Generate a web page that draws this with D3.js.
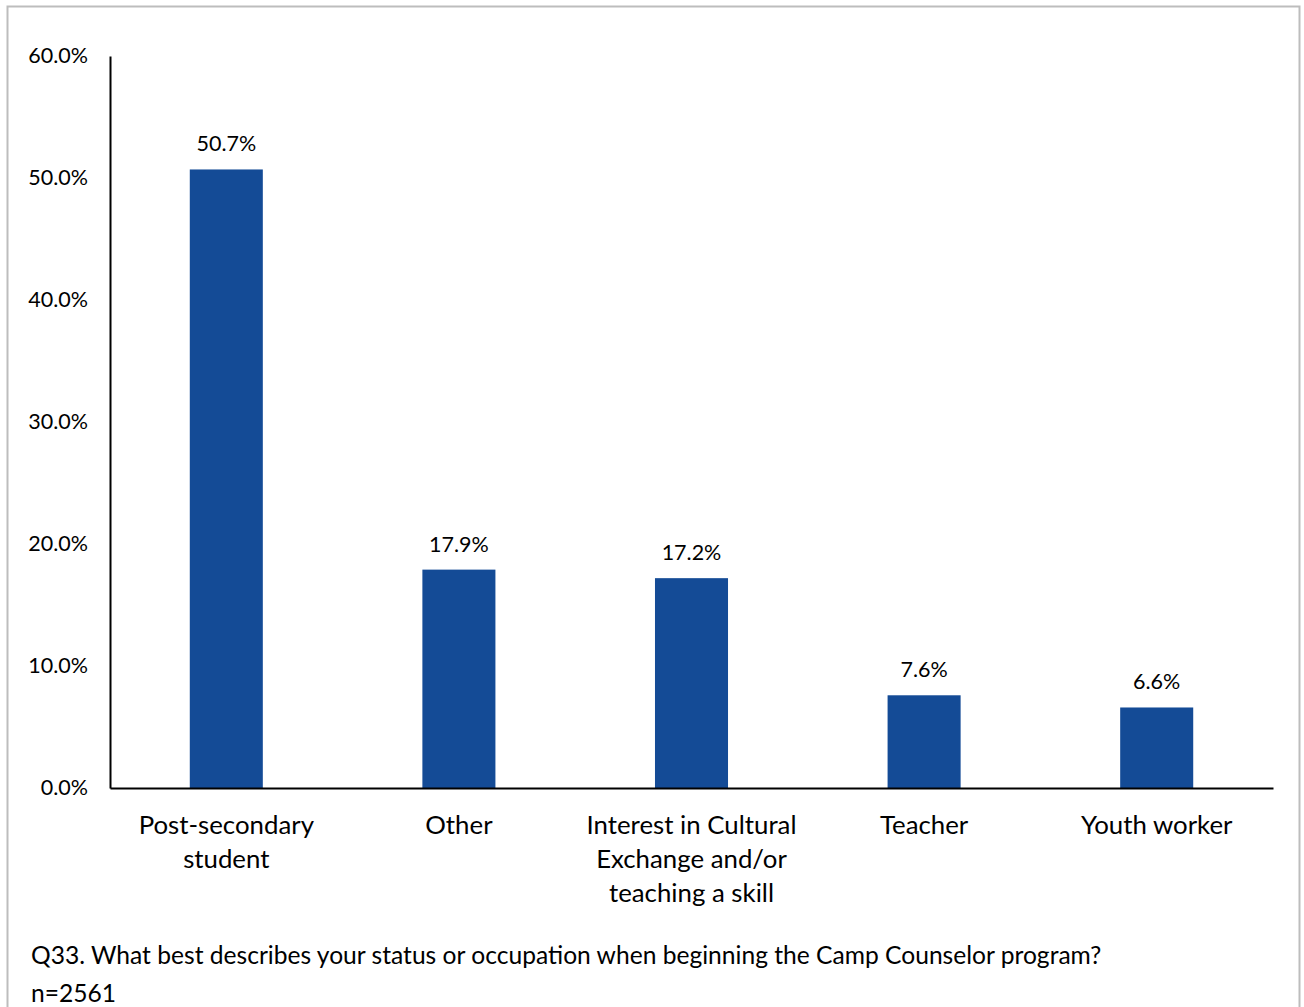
<!DOCTYPE html>
<html>
<head>
<meta charset="utf-8">
<script src="https://cdn.jsdelivr.net/npm/d3@7"></script>
<style>
  html, body { margin: 0; padding: 0; background: #fff; }
  svg { display: block; }
  text { font-family: Lato, "Open Sans", sans-serif; fill: #000; }
</style>
</head>
<body>
<svg id="chart" width="1304" height="1007"></svg>
<script>
// Survey responses: status or occupation when beginning the program
const categories = [
  ["Post-secondary", "student"],
  ["Other"],
  ["Interest in Cultural", "Exchange and/or", "teaching a skill"],
  ["Teacher"],
  ["Youth worker"]
];
const values = [50.7, 17.9, 17.2, 7.6, 6.6];
const yTicks = [0, 10, 20, 30, 40, 50, 60];
const footnote = [
  "Q33. What best describes your status or occupation when beginning the Camp Counselor program?",
  "n=2561"
];

const svg = d3.select("#chart");
const margin = { left: 110, right: 1273, top: 56, bottom: 788 };

// outer frame
svg.append("rect")
  .attr("x", 7.5).attr("y", 6.5)
  .attr("width", 1292).attr("height", 1010)
  .attr("fill", "none").attr("stroke", "#bdbdbd").attr("stroke-width", 2);

const x = d3.scaleBand()
  .domain(d3.range(values.length))
  .range([margin.left, margin.right])
  .paddingInner(0.686)
  .paddingOuter(0.343);

const y = d3.scaleLinear().domain([0, 60]).range([margin.bottom, margin.top]);

// bars
svg.append("g").selectAll("rect")
  .data(values)
  .join("rect")
  .attr("x", (d, i) => x(i))
  .attr("width", x.bandwidth())
  .attr("y", d => y(d))
  .attr("height", d => y(0) - y(d))
  .attr("fill", "#144b96");

// value labels
svg.append("g").selectAll("text")
  .data(values)
  .join("text")
  .attr("x", (d, i) => x(i) + x.bandwidth() / 2)
  .attr("y", d => y(d) - 18)
  .attr("text-anchor", "middle")
  .attr("font-size", 21.5)
  .text(d => d.toFixed(1) + "%");

// y axis
const yAxis = d3.axisLeft(y)
  .tickValues(yTicks)
  .tickSize(0)
  .tickPadding(22)
  .tickFormat(d => d.toFixed(1) + "%");
const gy = svg.append("g")
  .attr("transform", `translate(${margin.left},0)`)
  .call(yAxis);
gy.select(".domain").attr("stroke", "#000").attr("stroke-width", 2);
gy.selectAll("text")
  .attr("font-size", 21.5)
  .attr("font-family", "Lato, 'Open Sans', sans-serif")
  .attr("fill", "#000");

// x axis baseline
const xAxis = d3.axisBottom(x).tickSize(0).tickFormat("");
const gx = svg.append("g")
  .attr("transform", `translate(0,${margin.bottom})`)
  .call(xAxis);
gx.select(".domain").attr("stroke", "#000").attr("stroke-width", 2);

// multi-line category labels
svg.append("g").selectAll("text")
  .data(categories)
  .join("text")
  .attr("text-anchor", "middle")
  .attr("font-size", 25.8)
  .each(function (lines, i) {
    const t = d3.select(this);
    lines.forEach((ln, k) => {
      t.append("tspan")
        .attr("x", x(i) + x.bandwidth() / 2)
        .attr("y", 834 + k * 34)
        .text(ln);
    });
  });

// footnote
svg.append("g").selectAll("text")
  .data(footnote)
  .join("text")
  .attr("x", 31)
  .attr("y", (d, i) => 964 + i * 38)
  .attr("font-size", 24.6)
  .text(d => d);
</script>
</body>
</html>
